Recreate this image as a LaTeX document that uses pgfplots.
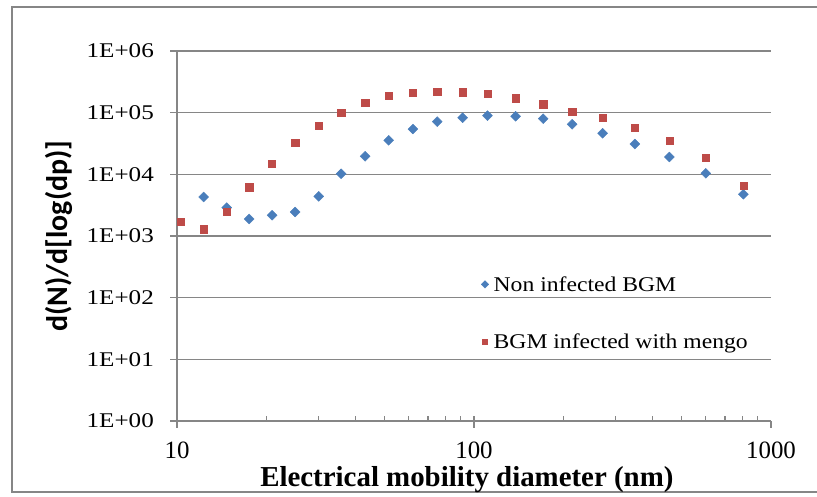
\documentclass[border=0pt]{standalone}
\usepackage{pgfplots}
\pgfplotsset{compat=1.18}
\usepackage{fontspec}
\setmainfont{Liberation Serif}
\newfontfamily\tnrY{Liberation Serif}[FakeStretch=1.2]
\newfontfamily\tnrL{Liberation Serif}[FakeStretch=1.13]
\newfontfamily\calibri{Carlito}
\definecolor{ser1}{HTML}{4A7EBB}
\definecolor{ser2}{HTML}{BE4B48}
\definecolor{gridc}{HTML}{868686}
\begin{document}
\begin{tikzpicture}
\draw[gridc, line width=1.2bp] (12bp,5bp) rectangle (840bp,490bp);
\begin{axis}[at={(177bp,76bp)}, anchor=south west, scale only axis,
 width=594bp, height=370bp,
 xmode=log, ymode=log, xmin=10, xmax=1000, ymin=1, ymax=1e6,
 axis x line*=bottom, axis y line*=left,
 axis line style={gridc, line width=1.5bp, -},
 xtick={10,100,1000}, xticklabels={10,100,1000},
 ytick={1,10,100,1000,10000,100000,1000000},
 yticklabels={1E+00,1E+01,1E+02,1E+03,1E+04,1E+05,1E+06},
 yminorticks=false,
 ymajorgrids, major grid style={gridc, line width=1.5bp},
 tick style={gridc, line width=1.2bp},
 tick align=outside, major tick length=7bp, minor tick length=5bp,
 minor x tick style={yshift=5bp},
 yticklabel style={font=\tnrY\fontsize{21}{21}\selectfont, anchor=east, inner sep=0pt, xshift=-16bp},
 xticklabel style={font=\fontsize{25}{25}\selectfont, anchor=base, inner sep=0pt, yshift=-31bp},
 xlabel={Electrical mobility diameter (nm)},
 xlabel style={at={(axis description cs:0.488,-0.178)}, anchor=base, font=\bfseries\fontsize{29}{29}\selectfont},
 ylabel={d(N)/d[log(dp)]},
 ylabel style={at={(axis description cs:-0.199,0.5)}, anchor=center, font=\calibri\bfseries\fontsize{30}{30}\selectfont},
 legend style={at={(axis description cs:0.512,0.397)}, anchor=north west, draw=none, fill=none, inner sep=0pt, row sep=37bp, column sep=3bp, font=\tnrL\fontsize{21}{21}\selectfont, cells={anchor=west}},
 legend image code/.code={\draw[#1, mark size=2.6bp] plot coordinates {(0bp,0bp)};},
]
\addplot[only marks, mark=square*, mark size=3.5bp, color=ser1, mark options={rotate=45, fill=ser1, draw=ser1}] coordinates {
(12.3,4290) (14.7,2880) (17.5,1890) (20.9,2170) (25.0,2450) (30.0,4400) (35.7,10200) (43.0,19600) (51.6,35600) (62.3,54300) (75.2,71400) (91.6,82800) (111,89300) (138,87400) (171,79800) (214,64700) (271,46300) (348,31000) (455,19100) (603,10400) (807,4750)
};
\addlegendentry{Non infected BGM}
\addplot[only marks, mark=square*, mark size=3.6bp, color=ser2, mark options={fill=ser2, draw=ser2}] coordinates {
(10.3,1706) (12.3,1285) (14.7,2450) (17.5,6170) (20.9,14900) (25.0,32600) (30.0,61500) (35.7,101000) (43.0,145000) (51.6,186000) (62.3,211000) (75.2,222000) (91.6,214000) (111,201000) (138,171000) (171,137000) (214,102600) (271,82000) (348,57000) (455,35600) (603,18600) (807,6470)
};
\addlegendentry{BGM infected with mengo}
\end{axis}
\pgfresetboundingbox
\useasboundingbox (0bp,0bp) rectangle (817bp,497bp);
\end{tikzpicture}
\end{document}
